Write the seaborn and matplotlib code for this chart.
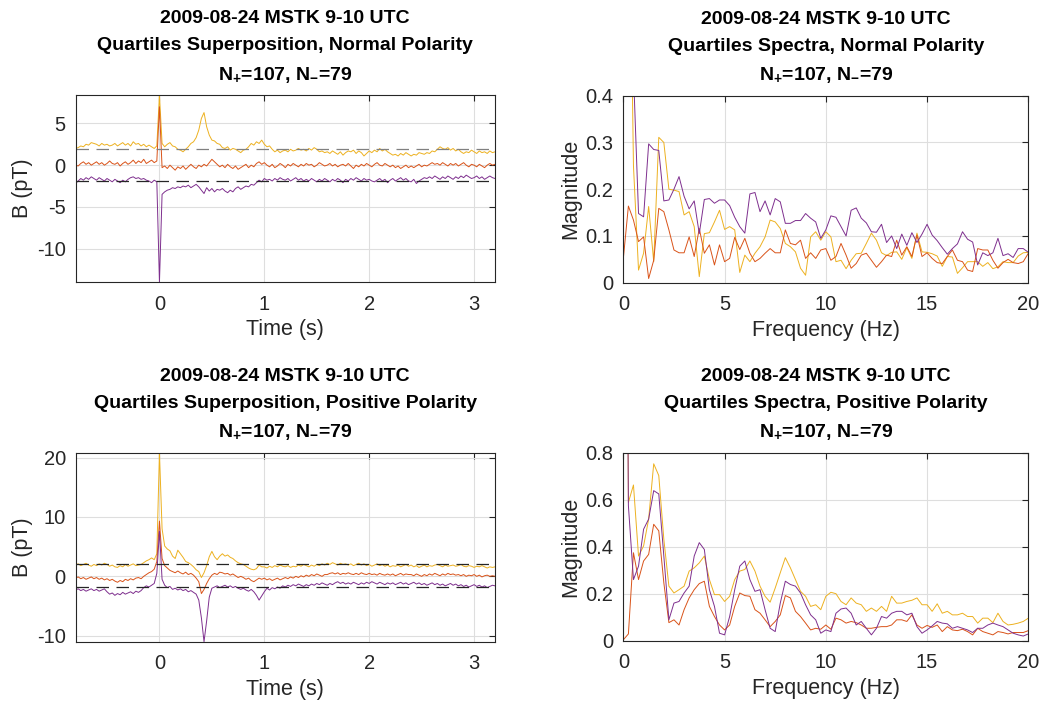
import numpy as np
import pandas as pd
import matplotlib
matplotlib.use("Agg")
import matplotlib.pyplot as plt
import seaborn as sns

# ---------------- data ----------------
time_s = np.round(np.linspace(-0.8, 3.2, 161), 3)
freq_hz = np.round(np.linspace(0.0, 20.0, 81), 3)

quartile_names = ["Upper quartile", "Median", "Lower quartile"]
quartile_colors = ["#EDB120", "#D95319", "#7E2F8E"]

# Normal polarity superposition (pT)
norm_upper = [
    2.0, 2.1, 2.3, 2.2, 2.5, 2.4, 2.7, 2.6,
    2.5, 2.3, 2.6, 2.4, 2.5, 2.3, 2.4, 2.6,
    2.3, 2.5, 2.7, 2.4, 2.6, 2.3, 2.8, 2.5,
    2.6, 2.3, 2.5, 2.2, 2.4, 2.2, 2.0, 2.3,
    8.4, 2.6, 2.2, 2.5, 2.7, 2.3, 2.2, 1.9,
    1.8, 1.6, 1.9, 2.2, 2.6, 2.8, 3.3, 4.2,
    5.6, 6.3, 4.6, 3.6, 3.0, 2.9, 2.6, 2.5,
    2.1, 2.0, 2.2, 1.8, 2.0, 1.9, 1.7, 1.5,
    1.8, 1.9, 2.2, 2.6, 2.4, 2.8, 2.6, 3.0,
    2.5, 2.2, 2.3, 1.9, 1.6, 1.8, 1.5, 1.7,
    1.8, 1.6, 1.9, 1.7, 1.8, 2.0, 1.8, 1.9,
    1.7, 2.0, 1.8, 2.1, 1.9, 1.6, 1.7, 1.5,
    1.6, 1.4, 1.7, 1.5, 1.3, 1.6, 1.2, 1.5,
    1.7, 1.6, 1.8, 1.4, 1.7, 1.5, 1.1, 1.4,
    1.7, 1.5, 1.8, 1.6, 2.0, 1.7, 1.9, 1.6,
    1.4, 1.2, 1.3, 1.1, 1.4, 1.2, 1.5, 1.3,
    1.1, 1.3, 1.2, 1.5, 1.4, 1.3, 1.5, 1.4,
    1.7, 1.6, 1.9, 2.2, 2.0, 1.9, 2.1, 1.8,
    2.0, 1.7, 1.9, 1.6, 1.4, 1.6, 1.5, 1.8,
    1.6, 1.4, 1.7, 1.5, 1.6, 1.4, 1.7, 1.5,
    1.6,
]
norm_median = [
    0.0, -0.1, 0.2, 0.4, 0.1, 0.3, 0.0, 0.2,
    0.4, 0.1, 0.3, 0.0, 0.2, 0.5, 0.2, 0.1,
    0.3, -0.1, 0.2, 0.4, 0.1, 0.3, 0.6, 0.2,
    0.5, 0.3, 0.7, 0.2, 0.4, 0.6, 0.3, 0.5,
    7.0, -0.3, -0.1, -0.4, 0.0, -0.3, -0.6, -0.2,
    -0.4, -0.1, -0.5, -0.2, 0.1, -0.2, -0.4, 0.0,
    -0.2, 0.1, -0.1, 0.3, 0.7, 0.4, 0.1, -0.2,
    0.0, -0.3, 0.1, -0.2, -0.4, -0.1, -0.5, -0.3,
    -0.1, 0.1, -0.3, 0.0, -0.2, 0.2, 0.4, 0.1,
    0.3, 0.0, -0.2, 0.1, -0.3, -0.1, 0.2, 0.0,
    -0.3, 0.1, -0.1, 0.2, 0.0, -0.2, 0.1, -0.1,
    0.2, 0.0, 0.1, -0.2, 0.0, 0.3, 0.1, -0.1,
    0.0, 0.2, -0.1, 0.1, -0.2, 0.0, 0.1, -0.1,
    0.2, -0.1, -0.4, 0.0, -0.2, 0.1, -0.1, 0.2,
    0.0, -0.2, 0.1, 0.3, 0.0, -0.1, 0.2, 0.0,
    -0.2, 0.0, -0.3, -0.1, -0.4, -0.2, 0.0, -0.3,
    -0.1, -0.3, -0.1, 0.1, -0.2, 0.0, -0.1, 0.1,
    0.3, 0.1, 0.2, 0.0, 0.3, 0.1, -0.1, 0.2,
    0.0, 0.2, -0.1, 0.1, 0.3, 0.0, -0.2, 0.1,
    0.0, -0.2, 0.1, -0.1, -0.3, 0.0, 0.2, 0.0,
    0.1,
]
norm_lower = [
    -2.2, -1.9, -1.6, -1.8, -1.5, -1.7, -1.4, -1.6,
    -1.8, -1.5, -1.7, -1.9, -1.6, -1.8, -2.0, -1.7,
    -1.9, -2.1, -1.8, -2.0, -1.7, -1.5, -1.4, -1.6,
    -1.5, -1.7, -1.6, -1.8, -1.9, -2.1, -1.8, -2.0,
    -14.0, -3.5, -3.2, -3.0, -2.9, -2.7, -2.8, -2.6,
    -2.7, -2.5, -2.6, -2.4, -2.7, -2.5, -2.3, -2.6,
    -3.0, -3.4, -2.7, -3.1, -2.8, -3.2, -2.9, -3.0,
    -2.8, -3.1, -3.3, -3.0, -3.2, -2.8, -2.6, -2.9,
    -2.7, -2.5, -2.6, -2.3, -2.4, -2.1, -1.8, -2.0,
    -1.6, -1.8, -1.7, -1.9, -1.6, -1.8, -1.5, -1.7,
    -1.8, -1.6, -1.9, -1.7, -1.5, -1.8, -1.6, -1.9,
    -1.7, -1.9, -1.6, -1.8, -2.0, -1.7, -1.9, -1.6,
    -1.8, -2.0, -1.7, -1.9, -1.6, -1.8, -2.1, -1.7,
    -1.9, -1.6, -1.8, -1.5, -1.7, -1.9, -1.6, -1.8,
    -1.7, -1.9, -2.0, -1.8, -1.6, -1.9, -1.7, -2.1,
    -1.8, -1.6, -1.9, -1.7, -1.5, -1.8, -1.6, -1.9,
    -2.0, -1.7, -2.2, -1.9, -1.7, -1.5, -1.6, -1.4,
    -1.6, -1.3, -1.5, -1.7, -1.4, -1.6, -1.3, -1.5,
    -1.7, -1.4, -1.6, -1.3, -1.5, -1.2, -1.4, -1.6,
    -1.5, -1.3, -1.6, -1.4, -1.7, -1.5, -1.3, -1.5,
    -1.6,
]

# Positive polarity superposition (pT)
pos_upper = [
    1.9, 2.1, 1.8, 2.0, 2.2, 1.9, 1.7, 2.0,
    1.8, 2.1, 1.9, 2.2, 2.0, 1.7, 1.9, 1.6,
    1.5, 1.8, 1.6, 2.0, 1.7, 1.9, 2.1, 1.8,
    1.9, 2.0, 2.3, 2.6, 2.8, 3.1, 2.8, 3.8,
    20.8, 8.0, 5.1, 4.6, 4.3, 3.4, 3.0, 4.4,
    3.8, 3.2, 2.5, 2.3, 2.0, 1.6, 1.1, 0.8,
    -0.2, 0.6, 1.8, 3.3, 4.2, 3.3, 2.8, 3.4,
    3.8, 3.4, 3.6, 3.2, 3.0, 2.6, 2.3, 2.1,
    2.0, 1.7, 1.4, 1.2, 1.1, 1.3, 1.9, 1.6,
    1.6, 1.4, 1.7, 1.5, 1.8, 1.6, 1.9, 1.7,
    1.6, 1.8, 1.5, 1.7, 1.6, 1.9, 1.7, 2.0,
    1.8, 1.6, 1.9, 1.7, 2.0, 1.8, 2.1, 1.9,
    2.2, 2.0, 2.3, 2.1, 1.9, 2.2, 2.0, 2.1,
    1.9, 2.1, 1.8, 2.0, 2.2, 1.9, 2.1, 1.8,
    2.0, 1.7, 1.9, 2.1, 1.8, 2.0, 1.7, 1.9,
    1.6, 1.8, 1.7, 1.9, 1.6, 1.8, 2.0, 1.7,
    1.9, 1.6, 1.8, 1.5, 1.7, 1.9, 1.6, 1.8,
    1.7, 1.9, 2.0, 1.8, 1.6, 1.9, 1.7, 1.8,
    1.9, 1.7, 1.8, 2.0, 1.7, 1.6, 1.8, 1.7,
    1.5, 1.7, 1.6, 1.8, 1.6, 1.4, 1.6, 1.5,
    1.6,
]
pos_median = [
    -0.3, -0.1, -0.4, -0.2, -0.5, -0.3, -0.1, -0.4,
    -0.2, -0.5, -0.3, -0.6, -0.4, -0.7, -0.5, -0.8,
    -1.0, -0.7, -0.9, -0.5, -0.7, -0.4, -0.6, -0.3,
    -0.2, -0.4, 0.0, 0.3, 0.6, 0.8, 1.2, 2.5,
    9.3, 3.0, 1.8, 1.4, 1.0, 0.8, 0.6, 0.9,
    0.6, 0.4, 0.7, 0.3, 0.5, 0.2, -0.3, -0.9,
    -2.9, -2.2, -1.2, -0.4, 0.2, 0.5, 0.3, 0.7,
    0.6, 0.4, 0.5, 0.2, 0.4, 0.1, -0.2, 0.0,
    -0.2, -0.5, -0.3, -0.7, -0.9, -0.6, -0.3, -0.5,
    -0.3, -0.6, -0.4, -0.7, -0.5, -0.3, -0.6, -0.4,
    -0.2, -0.4, -0.1, -0.3, 0.0, -0.2, 0.1, -0.1,
    0.2, 0.0, 0.3, 0.1, 0.4, 0.2, 0.0, 0.3,
    0.3, 0.5, 0.6, 0.4, 0.6, 0.3, 0.5, 0.4,
    0.6, 0.4, 0.3, 0.5, 0.3, 0.6, 0.4, 0.3,
    0.5, 0.3, 0.4, 0.2, 0.5, 0.3, 0.2, 0.4,
    0.2, 0.4, 0.1, 0.3, 0.5, 0.2, 0.4, 0.3,
    0.3, 0.1, 0.4, 0.2, 0.0, 0.3, 0.1, 0.4,
    0.2, 0.5, 0.3, 0.1, 0.4, 0.2, 0.5, 0.3,
    0.4, 0.2, 0.3, 0.1, 0.3, 0.0, 0.2, 0.1,
    0.3, 0.0, 0.2, -0.1, 0.1, 0.2, 0.0, 0.1,
    0.0,
]
pos_lower = [
    -2.3, -2.1, -2.4, -2.2, -2.5, -2.3, -2.1, -2.4,
    -2.2, -2.5, -2.3, -2.1, -2.6, -3.0, -2.8, -3.2,
    -2.9, -3.1, -2.7, -3.0, -2.8, -2.6, -2.9, -2.5,
    -2.7, -2.4, -1.9, -1.6, -1.8, -1.5, -1.2, 0.5,
    7.6, -0.5, -1.5, -1.9, -1.7, -2.2, -2.0, -2.3,
    -2.1, -2.4, -2.2, -2.6, -2.4, -2.7, -3.0, -4.0,
    -7.0, -11.0, -7.5, -3.5, -2.0, -1.8, -1.6, -1.9,
    -1.7, -1.5, -1.8, -1.6, -1.9, -1.7, -2.0, -2.2,
    -2.0, -2.3, -2.5, -2.2, -2.6, -3.2, -4.0, -3.3,
    -2.6, -2.0, -2.3, -1.9, -2.1, -1.8, -2.0, -1.6,
    -1.8, -1.5, -1.7, -1.4, -1.6, -1.3, -1.5, -1.7,
    -1.4, -1.6, -1.3, -1.5, -1.2, -1.4, -1.1, -1.3,
    -1.5, -1.2, -1.4, -1.1, -0.9, -1.2, -1.0, -1.3,
    -1.1, -1.3, -1.0, -1.2, -1.4, -1.1, -1.3, -1.0,
    -1.2, -0.9, -1.1, -1.3, -1.0, -1.2, -1.4, -1.1,
    -1.3, -1.1, -1.4, -1.2, -1.0, -1.3, -1.1, -1.4,
    -1.2, -1.0, -1.3, -1.1, -1.4, -1.2, -1.5, -1.3,
    -1.1, -1.4, -1.2, -1.5, -1.3, -1.6, -1.4, -1.2,
    -1.5, -1.3, -1.6, -1.4, -1.7, -1.5, -1.8, -1.6,
    -1.4, -1.7, -1.5, -1.8, -1.6, -1.9, -1.7, -1.5,
    -1.6,
]

# Reference (dashed) levels, pT
norm_ref_levels = [1.9, -1.9]
pos_ref_levels = [2.1, -1.75]

# Spectra magnitudes, normal polarity
spec_norm_upper = [
    5.0, 1.0, 0.25, 0.027, 0.063, 0.163, 0.045, 0.311,
    0.300, 0.200, 0.198, 0.195, 0.145, 0.152, 0.120, 0.013,
    0.105, 0.107, 0.130, 0.155, 0.114, 0.120, 0.113, 0.022,
    0.059, 0.045, 0.063, 0.077, 0.098, 0.134, 0.130, 0.116,
    0.084, 0.077, 0.066, 0.031, 0.016, 0.098, 0.109, 0.091,
    0.109, 0.098, 0.045, 0.048, 0.030, 0.048, 0.062, 0.063,
    0.084, 0.106, 0.091, 0.064, 0.058, 0.065, 0.066, 0.050,
    0.075, 0.052, 0.106, 0.066, 0.065, 0.062, 0.057, 0.035,
    0.056, 0.055, 0.020, 0.032, 0.045, 0.045, 0.045, 0.035,
    0.043, 0.030, 0.034, 0.045, 0.043, 0.043, 0.057, 0.064,
    0.065,
]
spec_norm_median = [
    0.052, 0.164, 0.134, 0.088, 0.098, 0.009, 0.048, 0.159,
    0.152, 0.113, 0.070, 0.064, 0.064, 0.098, 0.056, 0.116,
    0.063, 0.081, 0.038, 0.081, 0.045, 0.052, 0.097, 0.071,
    0.095, 0.063, 0.045, 0.052, 0.063, 0.073, 0.064, 0.064,
    0.113, 0.084, 0.081, 0.091, 0.052, 0.064, 0.052, 0.070,
    0.073, 0.048, 0.056, 0.084, 0.059, 0.031, 0.041, 0.059,
    0.063, 0.048, 0.033, 0.045, 0.059, 0.056, 0.091, 0.059,
    0.077, 0.056, 0.102, 0.056, 0.064, 0.052, 0.043, 0.041,
    0.056, 0.070, 0.048, 0.045, 0.027, 0.024, 0.073, 0.070,
    0.070, 0.048, 0.031, 0.043, 0.050, 0.043, 0.041, 0.045,
    0.063,
]
spec_norm_lower = [
    4.5, 1.5, 0.45, 0.148, 0.141, 0.297, 0.285, 0.283,
    0.175, 0.177, 0.200, 0.227, 0.185, 0.158, 0.175, 0.105,
    0.178, 0.180, 0.170, 0.177, 0.177, 0.165, 0.140, 0.120,
    0.106, 0.190, 0.193, 0.152, 0.175, 0.145, 0.180, 0.173,
    0.127, 0.127, 0.133, 0.133, 0.148, 0.138, 0.130, 0.095,
    0.113, 0.143, 0.140, 0.120, 0.100, 0.155, 0.160, 0.138,
    0.128, 0.109, 0.108, 0.125, 0.086, 0.100, 0.073, 0.104,
    0.080, 0.107, 0.086, 0.104, 0.125, 0.102, 0.090, 0.075,
    0.061, 0.073, 0.083, 0.109, 0.093, 0.087, 0.038, 0.064,
    0.058, 0.064, 0.095, 0.058, 0.062, 0.054, 0.073, 0.073,
    0.065,
]

# Spectra magnitudes, positive polarity
spec_pos_upper = [
    5.0, 0.589, 0.663, 0.361, 0.404, 0.518, 0.753, 0.703,
    0.432, 0.233, 0.204, 0.218, 0.233, 0.297, 0.311, 0.332,
    0.361, 0.261, 0.197, 0.197, 0.168, 0.190, 0.261, 0.297,
    0.304, 0.340, 0.297, 0.233, 0.190, 0.165, 0.225, 0.290,
    0.354, 0.311, 0.261, 0.211, 0.190, 0.147, 0.154, 0.133,
    0.190, 0.207, 0.201, 0.168, 0.154, 0.183, 0.161, 0.154,
    0.126, 0.140, 0.126, 0.147, 0.126, 0.190, 0.161, 0.161,
    0.168, 0.173, 0.183, 0.154, 0.154, 0.126, 0.158, 0.118,
    0.126, 0.111, 0.111, 0.118, 0.104, 0.104, 0.076, 0.097,
    0.097, 0.078, 0.118, 0.083, 0.068, 0.071, 0.076, 0.083,
    0.097,
]
spec_pos_median = [
    0.005, 0.030, 0.375, 0.261, 0.340, 0.368, 0.496, 0.468,
    0.247, 0.078, 0.090, 0.068, 0.133, 0.183, 0.218, 0.244,
    0.254, 0.147, 0.104, 0.068, 0.047, 0.068, 0.147, 0.204,
    0.193, 0.190, 0.133, 0.118, 0.090, 0.061, 0.083, 0.111,
    0.193, 0.183, 0.126, 0.104, 0.076, 0.047, 0.054, 0.050,
    0.068, 0.050, 0.097, 0.090, 0.076, 0.083, 0.078, 0.068,
    0.054, 0.054, 0.058, 0.061, 0.061, 0.068, 0.090, 0.090,
    0.083, 0.111, 0.068, 0.054, 0.066, 0.058, 0.068, 0.040,
    0.061, 0.047, 0.044, 0.050, 0.040, 0.026, 0.054, 0.040,
    0.033, 0.026, 0.040, 0.036, 0.030, 0.036, 0.036, 0.036,
    0.044,
]
spec_pos_lower = [
    4.0, 0.575, 0.261, 0.318, 0.475, 0.518, 0.639, 0.625,
    0.361, 0.090, 0.161, 0.168, 0.204, 0.233, 0.361, 0.418,
    0.389, 0.218, 0.147, 0.033, 0.026, 0.104, 0.218, 0.318,
    0.340, 0.261, 0.211, 0.218, 0.133, 0.054, 0.040, 0.161,
    0.254, 0.240, 0.233, 0.204, 0.154, 0.111, 0.090, 0.033,
    0.047, 0.040, 0.118, 0.136, 0.140, 0.118, 0.068, 0.083,
    0.054, 0.026, 0.054, 0.104, 0.097, 0.118, 0.126, 0.126,
    0.111, 0.118, 0.061, 0.033, 0.047, 0.064, 0.083, 0.076,
    0.073, 0.054, 0.061, 0.054, 0.047, 0.036, 0.054, 0.054,
    0.068, 0.076, 0.068, 0.061, 0.047, 0.033, 0.026, 0.021,
    0.030,
]

title_line1 = "2009-08-24 MSTK 9-10 UTC"
count_line = r"N$_{\mathbf{+}}$=107, N$_{\mathbf{-}}$=79"
titles = {
    "tl": "Quartiles Superposition, Normal Polarity",
    "tr": "Quartiles Spectra, Normal Polarity",
    "bl": "Quartiles Superposition, Positive Polarity",
    "br": "Quartiles Spectra, Positive Polarity",
}

# ---------------- style ----------------
sns.set_theme(style="whitegrid")
plt.rcParams["font.family"] = ["Liberation Sans", "DejaVu Sans"]
plt.rcParams["mathtext.fontset"] = "custom"
plt.rcParams["mathtext.rm"] = "Liberation Sans"
plt.rcParams["mathtext.bf"] = "Liberation Sans:bold"
plt.rcParams["axes.unicode_minus"] = False

INK = "#262626"
GRID = "#DEDEDE"
TICK_FS = 14.5
LABEL_FS = 15.5
TITLE_FS = 14

fig = plt.figure(figsize=(10.61, 7.05), dpi=100)
fig.patch.set_facecolor("white")

pos = {
    "tl": [0.0712, 0.600, 0.3954, 0.2652],
    "tr": [0.5875, 0.599, 0.3817, 0.2652],
    "bl": [0.0712, 0.0898, 0.3954, 0.2680],
    "br": [0.5875, 0.0908, 0.3817, 0.2670],
}


def long_frame(x, series):
    frames = []
    for name, vals in zip(quartile_names, series):
        frames.append(pd.DataFrame({"x": x, "y": vals, "q": name}))
    return pd.concat(frames, ignore_index=True)


def style_axes(ax, key):
    ax.set_facecolor("white")
    for s in ax.spines.values():
        s.set_color(INK)
        s.set_linewidth(0.8)
        s.set_visible(True)
    ax.grid(True, color=GRID, linewidth=0.8)
    ax.set_axisbelow(True)
    ax.tick_params(direction="in", length=4, width=0.8, top=True, right=True,
                   colors=INK, labelsize=TICK_FS)
    ax.tick_params(axis="x", pad=9)
    ax.tick_params(axis="y", pad=7)
    ax.set_title(title_line1 + "\n" + titles[key] + "\n" + count_line,
                 fontsize=TITLE_FS, fontweight="bold", color="black",
                 linespacing=1.75, pad=11)


def draw_time(ax, key, series, ref_levels, ref_colors, yticks):
    df = long_frame(time_s, series)
    sns.lineplot(data=df, x="x", y="y", hue="q", hue_order=quartile_names,
                 palette=quartile_colors, estimator=None, sort=False,
                 linewidth=0.7, legend=False, ax=ax)
    for lvl, c in zip(ref_levels, ref_colors):
        ax.axhline(lvl, color=c, linestyle=(0, (10, 6)), linewidth=0.9)
    allv = np.concatenate([np.asarray(s) for s in series])
    ax.set_xlim(time_s[0], time_s[-1])
    ax.set_ylim(allv.min(), allv.max())
    ax.set_xticks([0, 1, 2, 3])
    ax.set_yticks(yticks)
    ax.set_xlabel("Time (s)", fontsize=LABEL_FS, color=INK, labelpad=4)
    ax.set_ylabel("B (pT)", fontsize=LABEL_FS, color=INK, labelpad=3)
    style_axes(ax, key)


def draw_spec(ax, key, series, ymax, yticks, ytick_labels):
    df = long_frame(freq_hz, series)
    sns.lineplot(data=df, x="x", y="y", hue="q", hue_order=quartile_names,
                 palette=quartile_colors, estimator=None, sort=False,
                 linewidth=0.7, legend=False, ax=ax)
    ax.set_xlim(0, 20)
    ax.set_ylim(0, ymax)
    ax.set_xticks([0, 5, 10, 15, 20])
    ax.set_yticks(yticks)
    ax.set_yticklabels(ytick_labels)
    ax.set_xlabel("Frequency (Hz)", fontsize=LABEL_FS, color=INK, labelpad=4)
    ax.set_ylabel("Magnitude", fontsize=LABEL_FS, color=INK, labelpad=3)
    style_axes(ax, key)


ax_tl = fig.add_axes(pos["tl"])
draw_time(ax_tl, "tl", [norm_upper, norm_median, norm_lower],
          norm_ref_levels, ["#808080", "#262626"], [-10, -5, 0, 5])

ax_bl = fig.add_axes(pos["bl"])
draw_time(ax_bl, "bl", [pos_upper, pos_median, pos_lower],
          pos_ref_levels, ["#262626", "#262626"], [-10, 0, 10, 20])

ax_tr = fig.add_axes(pos["tr"])
draw_spec(ax_tr, "tr", [spec_norm_upper, spec_norm_median, spec_norm_lower],
          0.4, [0, 0.1, 0.2, 0.3, 0.4], ["0", "0.1", "0.2", "0.3", "0.4"])

ax_br = fig.add_axes(pos["br"])
draw_spec(ax_br, "br", [spec_pos_upper, spec_pos_median, spec_pos_lower],
          0.8, [0, 0.2, 0.4, 0.6, 0.8], ["0", "0.2", "0.4", "0.6", "0.8"])

fig.savefig("out.png", dpi=100, facecolor="white")
